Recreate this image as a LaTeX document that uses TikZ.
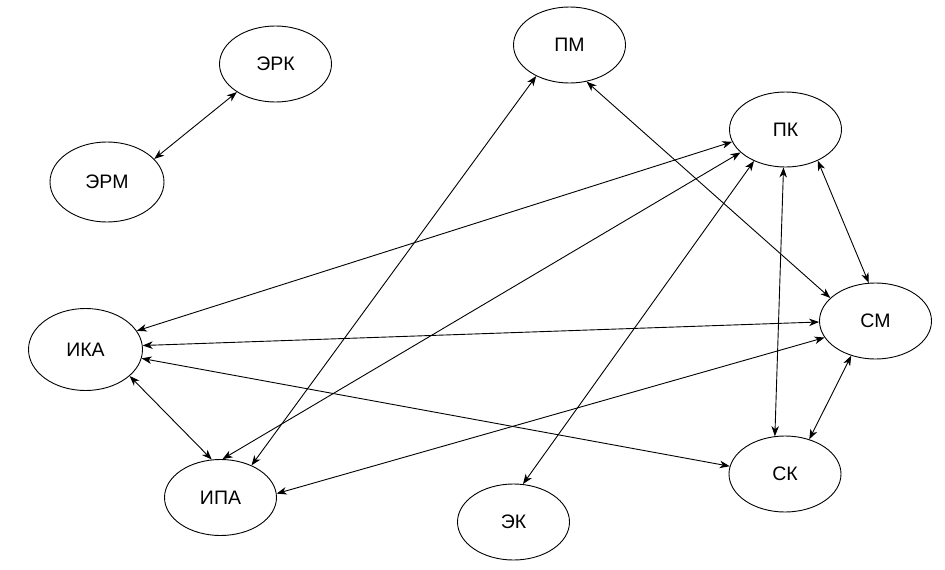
\documentclass[tikz,border=0pt]{standalone}
\usepackage{fontspec}
\setmainfont{Liberation Sans}
\usetikzlibrary{arrows.meta,shapes.geometric}
\begin{document}
\begin{tikzpicture}[x=1pt,y=-1pt,
  ell/.style={ellipse,draw=black,line width=0.9pt,minimum width=112pt,minimum height=76pt,inner sep=0pt,
    font=\fontsize{19.5}{22}\selectfont},
  link/.style={line width=0.9pt,{Stealth[length=10pt,width=7.5pt,inset=3pt]}-{Stealth[length=10pt,width=7.5pt,inset=3pt]}}]
\useasboundingbox (0,0) rectangle (945,570);
\node[ell] (erk) at (275.5,64) {ЭРК};
\node[ell,minimum width=114pt,minimum height=80pt] (erm) at (107,182) {ЭРМ};
\node[ell] (pm) at (569.5,45) {ПМ};
\node[ell,minimum height=75pt] (pk) at (785.5,129.5) {ПК};
\node[ell,minimum width=114pt,minimum height=82pt] (ika) at (85.5,349.5) {ИКА};
\node[ell] (sm) at (875.5,321) {СМ};
\node[ell] (ipa) at (220.5,497.5) {ИПА};
\node[ell] (ek) at (513.5,522) {ЭК};
\node[ell] (sk) at (785,474) {СК};

\draw[link] (erk.216) -- (erm.26);
\draw[link] (ika.329) -- (ipa.103);
\draw[link] (ika.20) -- (pk.193);
\draw[link] (ika.4) -- (sm.181);
\draw[link] (ika.351) -- (sk.172);
\draw[link] (pm.223) -- (ipa.46);
\draw[link] (pk.207) -- (ipa.87);
\draw[link] (pk.225) -- (ek.76);
\draw[link] (pk.267) -- (sk.105);
\draw[link] (pk.316) -- (sm.100);
\draw[link] (pm.295) -- (sm.153);
\draw[link] (sm.198) -- (ipa.4);
\draw[link] (sm.235) -- (sk.55);
\end{tikzpicture}
\end{document}
